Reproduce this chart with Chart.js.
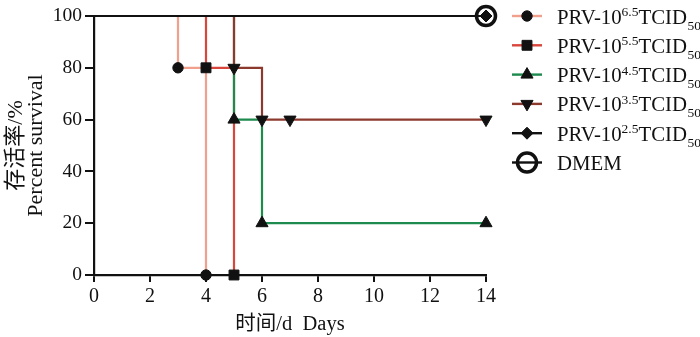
<!DOCTYPE html>
<html><head><meta charset="utf-8">
<script src="https://cdn.jsdelivr.net/npm/chart.js@4/dist/chart.umd.min.js"></script>
<style>html,body{margin:0;padding:0;background:#fff}</style>
</head><body>
<canvas id="c" width="700" height="337"></canvas>
<script>
// ---- data ----
const seriesPrefix = ['PRV-10','PRV-10','PRV-10','PRV-10','PRV-10','DMEM'];
const seriesExp    = ['6.5','5.5','4.5','3.5','2.5',''];
const seriesSuffix = ['TCID','TCID','TCID','TCID','TCID',''];
const seriesSub    = ['50','50','50','50','50',''];
const days65 = [0,3,4];        const surv65 = [100,80,0];
const days55 = [0,4,5];        const surv55 = [100,80,0];
const days45 = [0,5,6,14];     const surv45 = [100,60,20,20];
const days35 = [0,5,6,7,14];   const surv35 = [100,80,60,60,60];
const days25 = [0,14];         const surv25 = [100,100];
const daysDM = [0,14];         const survDM = [100,100];
const xTickValues = [0,2,4,6,8,10,12,14];
const yTickValues = [0,20,40,60,80,100];
const xTitle = '时间/d  Days';
const yTitle = ['存活率/%','Percent survival'];

const allDays = [days65,days55,days45,days35,days25,daysDM];
const allSurv = [surv65,surv55,surv45,surv35,surv25,survDM];
const colors = ['#f2a08e','#d8463c','#1e8a4e','#8c3a2e','#111111','#111111'];
const styles = [
  {ps:'circle', r:5.2, rot:0, bw:1, fill:'#111'},
  {ps:'rect', r:7, rot:0, bw:1, fill:'#111'},
  {ps:'triangle', r:7, rot:0, bw:1, fill:'#111'},
  {ps:'triangle', r:7, rot:180, bw:1, fill:'#111'},
  {ps:'rectRot', r:6, rot:0, bw:1, fill:'#111'},
  {ps:'circle', r:9.5, rot:0, bw:3.5, fill:'rgba(0,0,0,0)'}
];
const serif = "'Liberation Serif','Times New Roman',serif";
const mixed = "'Liberation Serif','Noto Sans CJK SC',serif";

const datasets = allDays.map((d,i)=>({
  label: seriesPrefix[i]+seriesExp[i]+seriesSuffix[i]+seriesSub[i],
  data: d.map((x,j)=>({x:x,y:allSurv[i][j]})),
  borderColor: colors[i],
  borderWidth: 2.2,
  stepped: 'before',
  fill:false,
  clip:false,
  order: 5-i,
  pointStyle: styles[i].ps,
  pointRotation: styles[i].rot,
  pointRadius: c => c.dataIndex===0 ? 0 : styles[i].r,
  pointBorderWidth: styles[i].bw,
  pointBackgroundColor: styles[i].fill,
  pointBorderColor: '#111'
}));

const legendPlugin = {
  id:'customLegend',
  afterDraw(chart){
    const ctx = chart.ctx;
    ctx.save();
    datasets.forEach((ds,i)=>{
      const y = 16 + i*29.3;
      ctx.strokeStyle = ds.borderColor; ctx.lineWidth = 2.4;
      ctx.beginPath(); ctx.moveTo(512,y); ctx.lineTo(542,y); ctx.stroke();
      ctx.fillStyle = styles[i].fill; ctx.strokeStyle = '#111'; ctx.lineWidth = styles[i].bw;
      Chart.helpers.drawPoint(ctx,{pointStyle:styles[i].ps, radius:styles[i].r, rotation:styles[i].rot, borderWidth:styles[i].bw},527,y);
      ctx.fillStyle = '#111'; ctx.textBaseline='alphabetic'; ctx.textAlign='left';
      let x = 557; const base = y+7.5;
      ctx.font = '20.8px '+serif; ctx.fillText(seriesPrefix[i],x,base); x += ctx.measureText(seriesPrefix[i]).width;
      if(seriesExp[i]){ ctx.font='13.5px '+serif; ctx.fillText(seriesExp[i],x,base-7.5); x+=ctx.measureText(seriesExp[i]).width; }
      if(seriesSuffix[i]){ ctx.font='20.8px '+serif; ctx.fillText(seriesSuffix[i],x,base); x+=ctx.measureText(seriesSuffix[i]).width; }
      if(seriesSub[i]){ ctx.font='13.5px '+serif; ctx.fillText(seriesSub[i],x+0.5,base+6); }
    });
    ctx.restore();
  }
};

new Chart(document.getElementById('c'),{
  type:'line',
  data:{datasets},
  plugins:[legendPlugin],
  options:{
    responsive:false, animation:false,
    layout:{padding:{top:16,right:214,left:0,bottom:0}},
    plugins:{legend:{display:false},tooltip:{enabled:false}},
    scales:{
      x:{type:'linear',min:0,max:14,
        afterBuildTicks: s => { s.ticks = xTickValues.map(v=>({value:v})); },
        afterFit: s => { s.height = 62; },
        ticks:{color:'#111',font:{family:serif,size:20},padding:3,maxRotation:0},
        grid:{drawOnChartArea:false,tickLength:7,color:'#111',lineWidth:2},
        border:{color:'#111',width:2.2},
        title:{display:true,text:xTitle,color:'#111',font:{family:mixed,size:20.5},padding:{top:0,bottom:0}}
      },
      y:{type:'linear',min:0,max:100,
        afterBuildTicks: s => { s.ticks = yTickValues.map(v=>({value:v})); },
        afterFit: s => { s.width = 94; },
        ticks:{color:'#111',font:{family:serif,size:19.5},padding:3},
        grid:{drawOnChartArea:false,tickLength:9,color:'#111',lineWidth:2},
        border:{color:'#111',width:2.2},
        title:{display:true,text:yTitle,color:'#111',font:{family:mixed,size:22,lineHeight:0.9},padding:{top:6.5,bottom:0}}
      }
    }
  }
});
</script>
</body></html>
